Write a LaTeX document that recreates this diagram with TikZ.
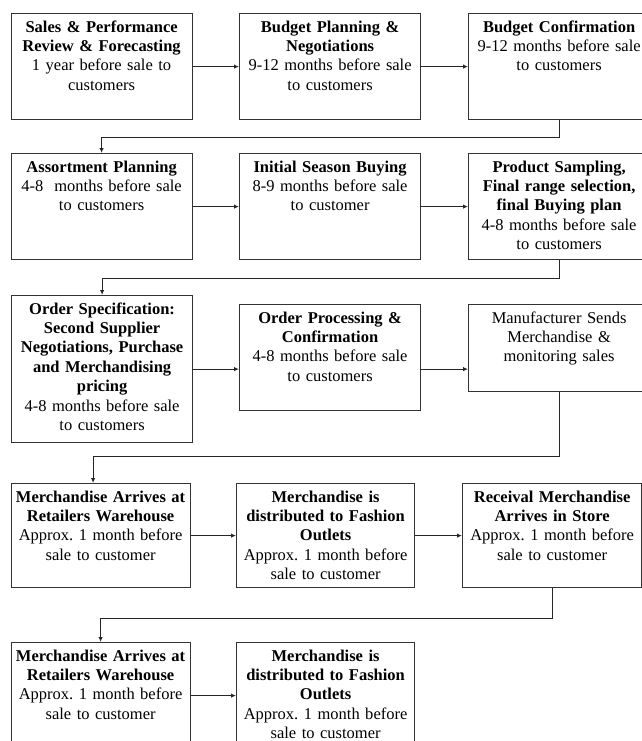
\documentclass[tikz,border=0pt]{standalone}
\usepackage{fontspec}
\setmainfont{Liberation Serif}
\usetikzlibrary{arrows.meta}
\usetikzlibrary{shapes}

\begin{document}
\frenchspacing
\begin{tikzpicture}[x=1pt,y=-1pt,
  stage/.style={rectangle,draw=black!80,line width=1.2pt,anchor=north west,inner sep=0pt,align=center,
    text height=18.5pt,font=\fontsize{16.5}{19.4}\selectfont},
  flow/.style={draw=black!85,line width=1pt,-{Latex[length=5pt,width=4.5pt]}}]
\useasboundingbox (0,0) rectangle (642,741);
% row 1
\node(A) at (10.5,13) [stage,text width=181pt,text depth=87.5pt]{\textbf{Sales \& Performance}\\\textbf{Review \& Forecasting}\\1 year before sale to\\customers};
\node(B) at (239,13) [stage,text width=181pt,text depth=87.5pt]{\textbf{Budget Planning \&}\\\textbf{Negotiations}\\9-12 months before sale\\to customers};
\node(C) at (468,13) [stage,text width=181pt,text depth=87.5pt]{\textbf{Budget Confirmation}\\9-12 months before sale\\to customers};
% row 2
\node(D) at (10.5,153) [stage,text width=181pt,text depth=87.5pt]{\textbf{Assortment Planning}\\4-8\ \ months before sale\\to customers};
\node(E) at (239,153) [stage,text width=181pt,text depth=87.5pt]{\textbf{Initial Season Buying}\\8-9 months before sale\\to customer};
\node(F) at (468,153) [stage,text width=181pt,text depth=87.5pt]{\textbf{Product Sampling,}\\\textbf{Final range selection,}\\\textbf{final Buying plan}\\4-8 months before sale\\to customers};
% row 3
\node(G) at (11,295) [stage,text width=181pt,text depth=128.5pt]{\textbf{Order Specification:}\\\textbf{Second Supplier}\\\textbf{Negotiations, Purchase}\\\textbf{and Merchandising}\\\textbf{pricing}\\4-8 months before sale\\to customers};
\node(H) at (239,304) [stage,text width=181pt,text depth=87.5pt]{\textbf{Order Processing \&}\\\textbf{Confirmation}\\4-8 months before sale\\to customers};
\node(I) at (468,304) [stage,text width=181pt,text depth=68.5pt]{Manufacturer Sends\\Merchandise \&\\monitoring sales};
% row 4
\node(J) at (10.5,483) [stage,text width=179pt,text depth=85.5pt]{\textbf{Merchandise Arrives at}\\\textbf{Retailers Warehouse}\\Approx. 1 month before\\sale to customer};
\node(K) at (236,483) [stage,text width=178pt,text depth=85.5pt]{\textbf{Merchandise is}\\\textbf{distributed to Fashion}\\\textbf{Outlets}\\Approx. 1 month before\\sale to customer};
\node(L) at (462,483) [stage,text width=179pt,text depth=85.5pt]{\textbf{Receival Merchandise}\\\textbf{Arrives in Store}\\Approx. 1 month before\\sale to customer};
% row 5
\node(M) at (10.5,642) [stage,text width=179pt,text depth=87.5pt]{\textbf{Merchandise Arrives at}\\\textbf{Retailers Warehouse}\\Approx. 1 month before\\sale to customer};
\node(N) at (236,642) [stage,text width=178pt,text depth=87.5pt]{\textbf{Merchandise is}\\\textbf{distributed to Fashion}\\\textbf{Outlets}\\Approx. 1 month before\\sale to customer};
% arrows in the rows
\draw[flow] (A.east) -- (A.east -| B.west);
\draw[flow] (B.east) -- (B.east -| C.west);
\draw[flow] (D.east) -- (D.east -| E.west);
\draw[flow] (E.east) -- (E.east -| F.west);
\draw[flow] (G.east) -- (G.east -| H.west);
\draw[flow] (H.east |- G.east) -- (I.west |- G.east);
\draw[flow] (J.east) -- (J.east -| K.west);
\draw[flow] (K.east) -- (K.east -| L.west);
\draw[flow] (M.east) -- (M.east -| N.west);
% from row to row
\draw[flow] (C.south) -- ++(0,17) -| (D.north);
\draw[flow] (F.south) -- ++(0,18) -| (G.north);
\draw[flow] (I.south) -- ++(0,64) -| ([xshift=-7.5pt]J.north);
\draw[flow] (L.south) -- ++(0,30) -| (M.north);
\end{tikzpicture}
\end{document}
